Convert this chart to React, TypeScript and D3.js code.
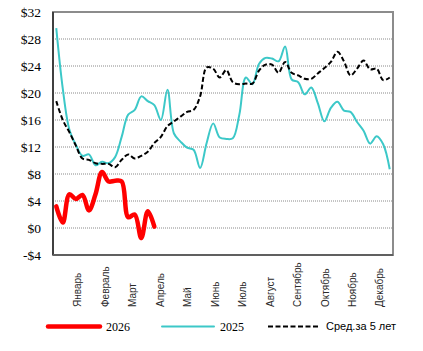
import React from 'react'
import * as d3 from 'd3'

const W = 423
const H = 351
const FRAME = { left: 53, right: 393, top: 12, bottom: 255 }
const SERIF = "'Liberation Serif', 'Times New Roman', Times, serif"
const SANS = "'Liberation Sans', Arial, Helvetica, sans-serif"

// weekly values, $ per unit
const series2026 = [3.2, 0.8, 5.0, 4.3, 4.9, 2.6, 5.0, 8.3, 6.9, 7.0, 6.9, 1.6, 2.0, -1.5, 2.5, 0.2]

const series2025 = [
  29.6, 20.6, 14.6, 12.3, 10.7, 10.9, 9.3, 9.8, 9.6, 10.5, 13.5, 16.8, 17.5, 19.5, 18.8, 18.2,
  16.0, 20.5, 14.0, 12.8, 11.9, 11.6, 8.9, 12.6, 15.5, 13.4, 13.2, 13.3, 16.8, 22.3, 21.3, 24.3,
  25.2, 25.1, 24.7, 26.9, 22.0, 21.6, 19.8, 20.8, 18.5, 15.8, 17.8, 18.7, 17.4, 17.2, 15.7, 14.4,
  12.5, 13.6, 12.4, 8.7,
]

const avg5y = [
  18.8, 16.0, 14.2, 12.2, 10.3, 10.1, 9.6, 9.5, 9.5, 9.0, 10.1, 10.9, 10.3, 10.7, 11.3, 12.6,
  13.5, 15.1, 15.8, 16.5, 17.2, 17.5, 19.5, 23.8, 23.6, 22.3, 23.4, 21.6, 21.3, 21.4, 21.4, 23.3,
  24.2, 24.2, 23.0, 24.6, 23.0, 22.6, 22.1, 22.1, 22.9, 23.7, 24.6, 26.1, 24.7, 22.6, 23.6, 24.8,
  23.5, 23.6, 21.9, 22.3,
]

const months = ['Январь', 'Февраль', 'Март', 'Апрель', 'Май', 'Июнь', 'Июль', 'Август', 'Сентябрь', 'Октябрь', 'Ноябрь', 'Декабрь']
const monthTicks = [4.3, 8.5, 12.7, 16.9, 21.1, 25.3, 29.5, 33.7, 37.9, 42.1, 46.3, 50.5]
const yTicks = [-4, 0, 4, 8, 12, 16, 20, 24, 28, 32]

const legendItems = [
  { label: '2026', color: '#ff0000', width: 4.5, dash: null, font: SERIF, size: 12 },
  { label: '2025', color: '#3cc8c8', width: 2, dash: null, font: SERIF, size: 12 },
  { label: 'Сред.за 5 лет', color: '#000000', width: 2, dash: '5,2.5', font: SANS, size: 11 },
]

export default function App() {
  const x = d3.scaleLinear().domain([0.5, 52.5]).range([FRAME.left, FRAME.right])
  const y = d3.scaleLinear().domain([-4, 32]).range([FRAME.bottom, FRAME.top])

  const line = d3
    .line<number>()
    .x((_, i) => x(i + 1))
    .y(d => y(d))
    .curve(d3.curveCatmullRom.alpha(0.5))

  const legendX = [48, 162, 268]

  return (
    <svg width={W} height={H} style={{ position: 'absolute', left: 0, top: 0, background: '#fff' }}>
      {/* gridlines */}
      {yTicks.filter(t => t > -4 && t < 32).map(t => (
        <line key={t} x1={FRAME.left} x2={FRAME.right} y1={y(t)} y2={y(t)}
          stroke="#8a8a8a" strokeWidth={1} strokeDasharray="1,1" />
      ))}

      {/* frame */}
      <rect x={FRAME.left} y={FRAME.top} width={FRAME.right - FRAME.left} height={FRAME.bottom - FRAME.top}
        fill="none" stroke="#8c8c8c" strokeWidth={2} />
      <line x1={FRAME.left} x2={FRAME.left} y1={FRAME.top} y2={FRAME.bottom} stroke="#404040" strokeWidth={2} />
      <line x1={FRAME.left} x2={FRAME.right} y1={FRAME.bottom} y2={FRAME.bottom} stroke="#606060" strokeWidth={2} />

      {/* y labels */}
      {yTicks.map(t => (
        <text key={t} x={41} y={y(t)} dy="0.35em" textAnchor="end"
          style={{ fontFamily: SERIF, fontSize: 13.5 }} fill="#000">
          {t < 0 ? `-$${Math.abs(t)}` : `$${t}`}
        </text>
      ))}

      {/* month labels */}
      {months.map((m, i) => (
        <text key={m} transform={`translate(${x(monthTicks[i]) + 3.5},307) rotate(-90)`}
          textAnchor="start" style={{ fontFamily: SANS, fontSize: 10 }} fill="#2a2a2a">
          {m}
        </text>
      ))}

      {/* series */}
      <path d={line(series2025) || ''} fill="none" stroke="#3cc8c8" strokeWidth={2} />
      <path d={line(avg5y) || ''} fill="none" stroke="#000" strokeWidth={2} strokeDasharray="5,2.5" />
      <path d={line(series2026) || ''} fill="none" stroke="#ff0000" strokeWidth={4.5}
        strokeLinejoin="round" strokeLinecap="round" />

      {/* legend */}
      {legendItems.map((it, i) => (
        <g key={it.label} transform={`translate(${legendX[i]},326.5)`}>
          <line x1={0} x2={52} y1={0} y2={0} stroke={it.color} strokeWidth={it.width}
            strokeDasharray={it.dash || undefined} strokeLinecap={it.dash ? 'butt' : 'round'} />
          <text x={58} y={0} dy="0.35em" style={{ fontFamily: it.font, fontSize: it.size }} fill="#000">
            {it.label}
          </text>
        </g>
      ))}
    </svg>
  )
}
